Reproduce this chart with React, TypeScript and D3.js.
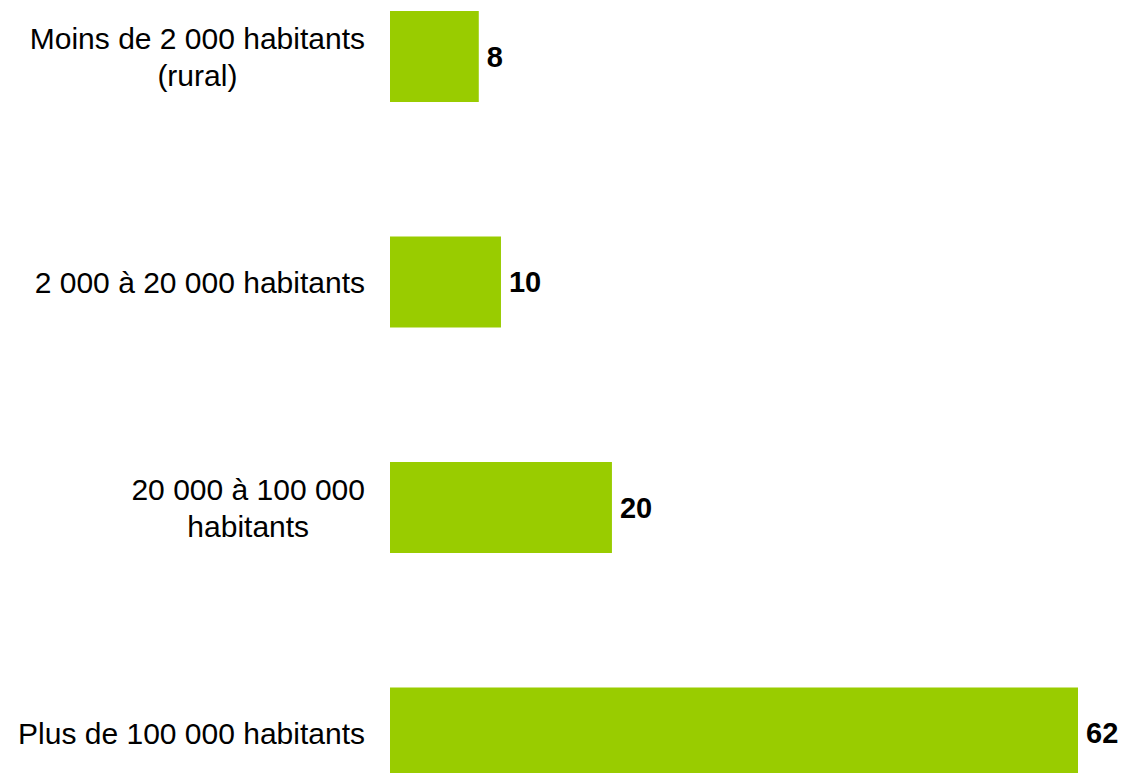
import React from "react";
import * as d3 from "d3";

const categories: string[][] = [
  ["Moins de 2 000 habitants", "(rural)"],
  ["2 000 à 20 000 habitants"],
  ["20 000 à 100 000", "habitants"],
  ["Plus de 100 000 habitants"],
];
const values: number[] = [8, 10, 20, 62];

const W = 1127;
const H = 773;

export default function App() {
  const keys = categories.map((c) => c.join(" "));
  const x = d3.scaleLinear().domain([0, 62]).range([390, 1078]);
  const y = d3
    .scaleBand<string>()
    .domain(keys)
    .range([11, 11 + 3 * 225.5 + 91])
    .paddingInner(1 - 91 / 225.5)
    .paddingOuter(0);
  const font = "'Liberation Sans', Arial, sans-serif";
  return (
    <svg
      width={W}
      height={H}
      style={{ position: "absolute", left: 0, top: 0, background: "#fff" }}
      fontFamily={font}
    >
      {keys.map((k, i) => {
        const y0 = y(k)!;
        const bw = y.bandwidth();
        const cy = y0 + bw / 2;
        const lines = categories[i];
        const lh = 37;
        return (
          <g key={k}>
            <rect x={x(0)} y={y0} width={x(values[i]) - x(0)} height={bw} fill="#99cc00" />
            <text
              x={x(values[i]) + 8}
              y={cy}
              dy="0.35em"
              fontSize={29}
              fontWeight="bold"
              fill="#000"
            >
              {values[i]}
            </text>
            {lines.length === 1 ? (
              <text x={365} y={cy} dy="0.35em" textAnchor="end" fontSize={30} fill="#000">
                {lines[0]}
              </text>
            ) : (
              <CenteredBlock lines={lines} right={365} cy={cy} lh={lh} />
            )}
          </g>
        );
      })}
    </svg>
  );
}

function CenteredBlock({ lines, right, cy, lh }: { lines: string[]; right: number; cy: number; lh: number }) {
  const ref = React.useRef<SVGGElement>(null);
  const [cx, setCx] = React.useState<number | null>(null);
  React.useLayoutEffect(() => {
    if (!ref.current) return;
    const texts = Array.from(ref.current.querySelectorAll("text")) as SVGTextElement[];
    const maxW = d3.max(texts, (t) => t.getComputedTextLength()) || 0;
    setCx(right - maxW / 2);
  }, [lines, right]);
  const n = lines.length;
  return (
    <g ref={ref} visibility={cx === null ? "hidden" : "visible"}>
      {lines.map((l, j) => (
        <text
          key={j}
          x={cx ?? right}
          y={cy + (j - (n - 1) / 2) * lh}
          dy="0.35em"
          textAnchor="middle"
          fontSize={30}
          fill="#000"
        >
          {l}
        </text>
      ))}
    </g>
  );
}
